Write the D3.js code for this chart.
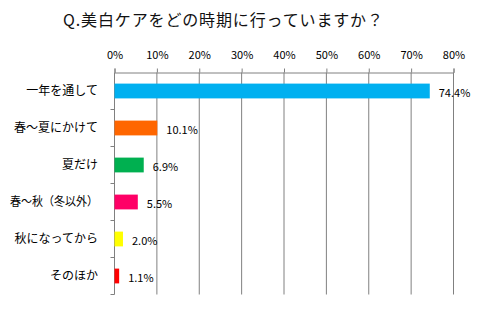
<!DOCTYPE html>
<html>
<head>
<meta charset="utf-8">
<script src="https://cdn.jsdelivr.net/npm/d3@7"></script>
<style>
  html, body { margin: 0; padding: 0; background: #fff; }
  svg { display: block; }
  text { font-family: "Noto Sans CJK JP", "Noto Sans", sans-serif; }
</style>
</head>
<body>
<svg id="chart" width="481" height="328"></svg>
<script>
const title = "Q.美白ケアをどの時期に行っていますか？";
const categories = ["一年を通して", "春～夏にかけて", "夏だけ", "春～秋（冬以外）", "秋になってから", "そのほか"];
const values = [74.4, 10.1, 6.9, 5.5, 2.0, 1.1];
const barColors = ["#00B0F0", "#FF6600", "#00B050", "#FF0066", "#FFFF00", "#FF0000"];
const tickValues = [0, 10, 20, 30, 40, 50, 60, 70, 80];

const svg = d3.select("#chart");
const plot = { left: 114.5, right: 453.5, top: 72.5, bottom: 294.5 };

const x = d3.scaleLinear().domain([0, 80]).range([plot.left, plot.right]);
const y = d3.scaleBand().domain(categories).range([plot.top, plot.bottom]).paddingInner(0.6).paddingOuter(0.3);
const yEdges = d3.scaleLinear().domain([0, categories.length]).range([plot.top, plot.bottom]);

// title
svg.append("text")
  .attr("x", 63).attr("y", 26)
  .attr("font-size", 16)
  .attr("fill", "#111")
  .attr("textLength", 320)
  .attr("lengthAdjust", "spacing")
  .text(title);

// vertical gridlines
svg.append("g").selectAll("line")
  .data(tickValues.slice(1))
  .join("line")
  .attr("x1", d => x(d)).attr("x2", d => x(d))
  .attr("y1", plot.top).attr("y2", plot.bottom)
  .attr("stroke", "#808080").attr("stroke-width", 1);

// top axis
const xAxis = d3.axisTop(x)
  .tickValues(tickValues)
  .tickSize(4)
  .tickPadding(10)
  .tickFormat(d => d + "%");
const gx = svg.append("g").attr("transform", `translate(0,${plot.top})`).call(xAxis);
gx.select(".domain").attr("stroke", "#808080");
gx.selectAll(".tick line").attr("stroke", "#808080");
gx.selectAll(".tick text")
  .attr("font-size", 11)
  .attr("fill", "#000")
  .attr("font-family", "'Noto Sans CJK JP', sans-serif");

// left axis with ticks at category boundaries
svg.append("line")
  .attr("x1", plot.left).attr("x2", plot.left)
  .attr("y1", plot.top).attr("y2", plot.bottom)
  .attr("stroke", "#808080");
svg.append("g").selectAll("line")
  .data(d3.range(1, categories.length + 1))
  .join("line")
  .attr("x1", plot.left - 4).attr("x2", plot.left)
  .attr("y1", d => yEdges(d)).attr("y2", d => yEdges(d))
  .attr("stroke", "#808080");

// category labels (long ones squeezed so the parentheses stay compact)
svg.append("g").selectAll("text")
  .data(categories)
  .join("text")
  .attr("x", 98)
  .attr("y", d => y(d) + y.bandwidth() / 2)
  .attr("dy", "0.35em")
  .attr("text-anchor", "end")
  .attr("font-size", 12)
  .attr("fill", "#000")
  .text(d => d)
  .each(function() {
    const w = this.getComputedTextLength();
    if (w > 88) d3.select(this).attr("textLength", 88).attr("lengthAdjust", "spacingAndGlyphs");
  });

// bars
const rows = categories.map((c, i) => ({ cat: c, value: values[i], color: barColors[i] }));
svg.append("g").selectAll("rect")
  .data(rows)
  .join("rect")
  .attr("x", x(0))
  .attr("y", d => y(d.cat))
  .attr("width", d => x(d.value) - x(0))
  .attr("height", y.bandwidth())
  .attr("fill", d => d.color);

// value labels
svg.append("g").selectAll("text")
  .data(rows)
  .join("text")
  .attr("x", d => x(d.value) + 9)
  .attr("y", d => y(d.cat) + y.bandwidth() / 2 + 2)
  .attr("dy", "0.35em")
  .attr("font-size", 11)
  .attr("fill", "#000")
  .text(d => d.value.toFixed(1) + "%");
</script>
</body>
</html>
